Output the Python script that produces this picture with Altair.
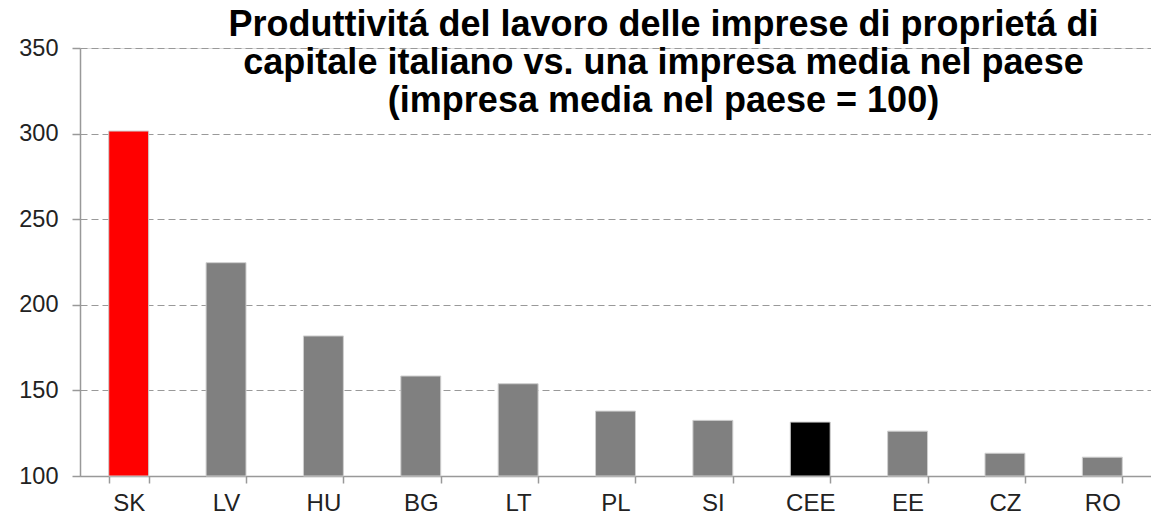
import altair as alt
import pandas as pd

countries = ["SK", "LV", "HU", "BG", "LT", "PL", "SI", "CEE", "EE", "CZ", "RO"]
values = [301.5, 224.6, 181.8, 158.4, 153.9, 137.9, 132.5, 131.5, 126.2, 113.3, 111.0]
y_ticks = [100, 150, 200, 250, 300, 350]
title_lines = [
    "Produttivitá del lavoro delle imprese di proprietá di",
    "capitale italiano vs. una impresa media nel paese",
    "(impresa media nel paese = 100)",
]

bar_colors = ["#ff0000", "#808080", "#808080", "#808080", "#808080", "#808080",
              "#808080", "#000000", "#808080", "#808080", "#808080"]

df = pd.DataFrame({"country": countries, "value": values})

FONT = "Liberation Sans"

chart = (
    alt.Chart(df)
    .mark_bar(stroke="#cfcfcf", strokeWidth=1)
    .encode(
        x=alt.X(
            "country:N",
            sort=countries,
            title=None,
            scale=alt.Scale(paddingInner=0.59, paddingOuter=0.295),
            axis=alt.Axis(
                labelAngle=0,
                tickBand="extent",
                tickSize=7,
                tickColor="#999999",
                domainColor="#999999",
                domainWidth=1.5,
                tickWidth=1.5,
                labelPadding=8,
                labelFontSize=24,
                labelFont=FONT,
                labelColor="#222222",
                grid=False,
            ),
        ),
        y=alt.Y(
            "value:Q",
            title=None,
            scale=alt.Scale(domain=[100, 350], nice=False, zero=False),
            axis=alt.Axis(
                values=y_ticks,
                tickSize=8,
                tickColor="#999999",
                tickWidth=1.5,
                domainColor="#999999",
                domainWidth=1.5,
                labelPadding=14,
                labelFontSize=23.5,
                labelFont=FONT,
                labelColor="#222222",
                grid=True,
                gridColor="#999999",
                gridDash=[7, 4],
                gridWidth=1.2,
            ),
        ),
        y2=alt.datum(100),
        color=alt.Color(
            "country:N",
            scale=alt.Scale(domain=countries, range=bar_colors),
            legend=None,
        ),
    )
    .properties(
        width=1071,
        height=428,
        autosize=alt.AutoSizeParams(type="none"),
        padding={"left": 72, "top": 40, "right": 0, "bottom": 38},
        title=alt.TitleParams(
            text=title_lines,
            font=FONT,
            fontSize=36,
            fontWeight="bold",
            color="#000000",
            lineHeight=38,
            anchor="middle",
            offset=-84,
            dx=48,
        ),
    )
    .configure_view(stroke=None)
    .configure(background="white")
)

chart.save("out.html", embed_options={"renderer": "svg", "actions": False})
